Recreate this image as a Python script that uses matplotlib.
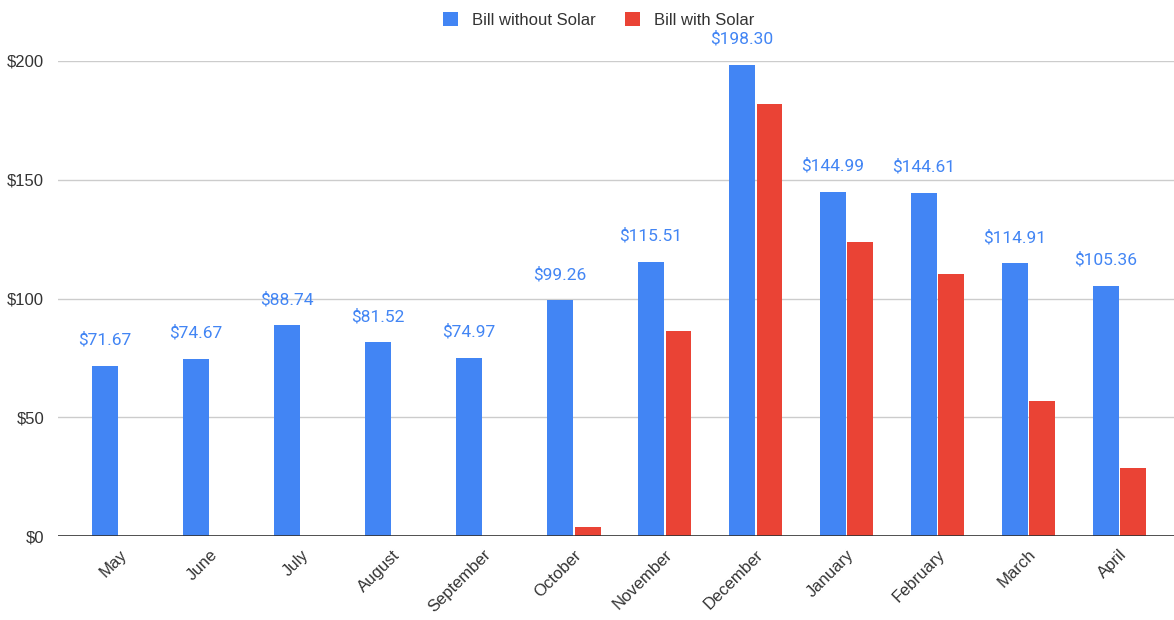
import numpy as np
import matplotlib.pyplot as plt

plt.rcParams["font.family"] = ["Liberation Sans", "DejaVu Sans"]

months = ["May", "June", "July", "August", "September", "October",
          "November", "December", "January", "February", "March", "April"]
without_solar = [71.67, 74.67, 88.74, 81.52, 74.97, 99.26,
                 115.51, 198.30, 144.99, 144.61, 114.91, 105.36]
with_solar = [0, 0, 0, 0, 0, 3.8, 86.3, 181.9, 123.8, 110.3, 56.8, 28.6]

BLUE = "#4285F4"
RED = "#EA4335"

fig = plt.figure(figsize=(11.74, 6.2), dpi=100)
ax = fig.add_axes([58 / 1174, 1 - 536 / 620, 1 - 58 / 1174, 475 / 620])

x = np.arange(len(months))
w = 0.285
b1 = ax.bar(x - w / 2 - 0.01, without_solar, w, color=BLUE, label="Bill without Solar", zorder=3)
b2 = ax.bar(x + w / 2 + 0.01, with_solar, w, color=RED, label="Bill with Solar", zorder=3)

# value labels above blue bars
for xi, v in zip(x, without_solar):
    ax.annotate(f"${v:.2f}", (xi - w / 2 - 0.01, v), xytext=(0, 13),
                textcoords="offset points", ha="center", va="bottom",
                color=BLUE, fontsize=12.5, family=["Roboto", "DejaVu Sans"],
                clip_on=False)

ax.set_xlim(-0.67, 11.6)
ax.set_ylim(0, 200)
ax.set_yticks([0, 50, 100, 150, 200])
ax.set_yticklabels(["$0", "$50", "$100", "$150", "$200"])
ax.set_xticks(x)
ax.set_xticklabels(months, rotation=45, ha="right", rotation_mode="anchor")

ax.grid(axis="y", color="#cccccc", linewidth=1, zorder=0)
ax.axhline(0, color="#333333", linewidth=1.2, zorder=4)
for s in ax.spines.values():
    s.set_visible(False)
ax.tick_params(axis="both", length=0, labelsize=12, colors="#333333")
ax.tick_params(axis="y", pad=10)
ax.tick_params(axis="x", pad=8)

fig.legend(handles=[b1, b2], loc="upper center", bbox_to_anchor=(0.51, 1.005),
           ncol=2, frameon=False, fontsize=12, handlelength=0.9, handleheight=0.9,
           columnspacing=1.8, handletextpad=0.8, labelcolor="#333333")

fig.savefig("out.png", dpi=100)
